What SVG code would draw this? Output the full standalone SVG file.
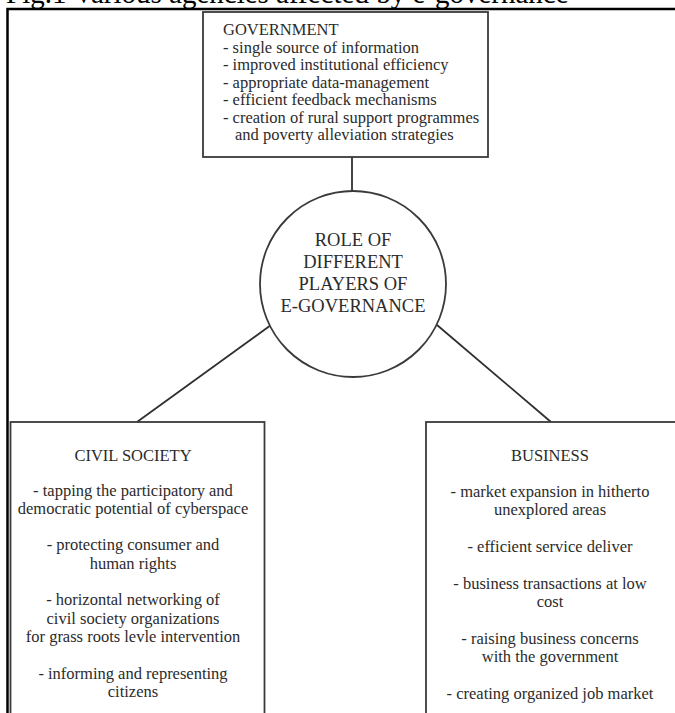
<svg xmlns="http://www.w3.org/2000/svg" width="675" height="713" viewBox="0 0 675 713">
<style>
  .t { font-family: "Liberation Serif", "Times New Roman", serif; fill: #2b2b2b; font-size: 16.5px; }
  .c { text-anchor: middle; }
  .box { fill: #ffffff; stroke: #3a3a3a; stroke-width: 1.8; }
  .conn { stroke: #2f2f2f; stroke-width: 1.8; fill: none; }
  .frame { stroke: #000000; stroke-width: 2.5; fill: none; }
</style>
<rect width="675" height="713" fill="#ffffff"/>
<text x="6" y="2.5" style="font-family: 'Liberation Serif', 'Times New Roman', serif; font-size: 29px; fill: #000;">Fig.1 Various agencies affected by e-governance</text>
<path class="frame" d="M7.5 713 V9 H680"/>
<g id="connectors">
  <line class="conn" x1="352" y1="157" x2="352" y2="195"/>
  <line class="conn" x1="271" y1="325" x2="137" y2="422"/>
  <line class="conn" x1="437" y1="325" x2="551" y2="422"/>
</g>
<g id="government">
  <rect class="box" x="203" y="12" width="285" height="145"/>
  <text class="t" x="223" y="35">GOVERNMENT</text>
  <text class="t" x="223" y="52.5">- single source of information</text>
  <text class="t" x="223" y="70">- improved institutional efficiency</text>
  <text class="t" x="223" y="87.5">- appropriate data-management</text>
  <text class="t" x="223" y="105">- efficient feedback mechanisms</text>
  <text class="t" x="223" y="122.5">- creation of rural support programmes</text>
  <text class="t" x="235" y="140">and poverty alleviation strategies</text>
</g>
<g id="role">
  <circle class="box" cx="353" cy="284" r="93"/>
  <text class="t c" x="353" y="246" style="font-size:18.5px">ROLE OF</text>
  <text class="t c" x="353" y="268" style="font-size:18.5px">DIFFERENT</text>
  <text class="t c" x="353" y="290" style="font-size:18.5px">PLAYERS OF</text>
  <text class="t c" x="353" y="312" style="font-size:18.5px">E-GOVERNANCE</text>
</g>
<g id="civil-society">
  <rect class="box" x="10.5" y="422" width="254" height="300"/>
  <text class="t c" x="133" y="461">CIVIL SOCIETY</text>
  <text class="t c" x="133" y="495.5">- tapping the participatory and</text>
  <text class="t c" x="133" y="513.5">democratic potential of cyberspace</text>
  <text class="t c" x="133" y="550">- protecting consumer and</text>
  <text class="t c" x="133" y="568.5">human rights</text>
  <text class="t c" x="133" y="605">- horizontal networking of</text>
  <text class="t c" x="133" y="623.5">civil society organizations</text>
  <text class="t c" x="133" y="642">for grass roots levle intervention</text>
  <text class="t c" x="133" y="679">- informing and representing</text>
  <text class="t c" x="133" y="697">citizens</text>
</g>
<g id="business">
  <rect class="box" x="426" y="422" width="260" height="300"/>
  <text class="t c" x="550" y="461">BUSINESS</text>
  <text class="t c" x="550" y="497">- market expansion in hitherto</text>
  <text class="t c" x="550" y="515">unexplored areas</text>
  <text class="t c" x="550" y="552">- efficient service deliver</text>
  <text class="t c" x="550" y="588.5">- business transactions at low</text>
  <text class="t c" x="550" y="607">cost</text>
  <text class="t c" x="550" y="644">- raising business concerns</text>
  <text class="t c" x="550" y="662">with the government</text>
  <text class="t c" x="550" y="699">- creating organized job market</text>
</g>
</svg>
